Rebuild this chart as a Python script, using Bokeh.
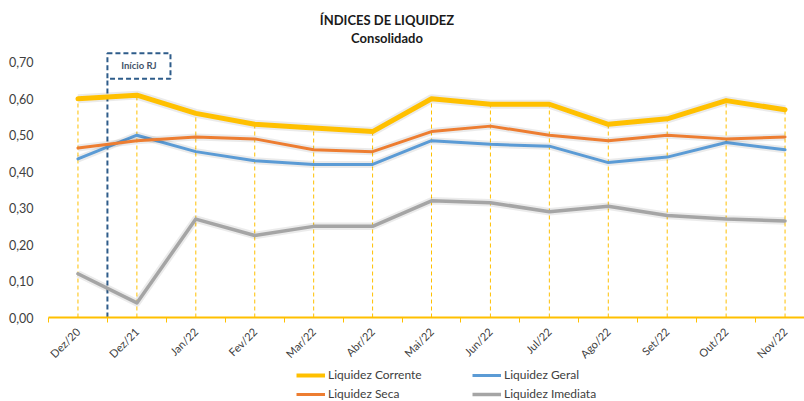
import math
from bokeh.plotting import figure
from bokeh.layouts import column
from bokeh.embed import file_html
from bokeh.resources import INLINE
from bokeh.models import (Range1d, FixedTicker, CustomJSTickFormatter, Legend,
                          LegendItem, Label, BoxAnnotation)

# ---------------- data ----------------
categorias = ["Dez/20", "Dez/21", "Jan/22", "Fev/22", "Mar/22", "Abr/22", "Mai/22",
              "Jun/22", "Jul/22", "Ago/22", "Set/22", "Out/22", "Nov/22"]
liquidez_corrente = [0.60, 0.61, 0.56, 0.53, 0.52, 0.51, 0.60, 0.585, 0.585, 0.53, 0.545, 0.595, 0.57]
liquidez_geral = [0.435, 0.50, 0.455, 0.43, 0.42, 0.42, 0.485, 0.475, 0.47, 0.425, 0.44, 0.48, 0.46]
liquidez_seca = [0.465, 0.485, 0.495, 0.49, 0.46, 0.455, 0.51, 0.525, 0.50, 0.485, 0.50, 0.49, 0.495]
liquidez_imediata = [0.12, 0.04, 0.27, 0.225, 0.25, 0.25, 0.32, 0.315, 0.29, 0.305, 0.28, 0.27, 0.265]
series_nomes = ["Liquidez Corrente", "Liquidez Geral", "Liquidez Seca", "Liquidez Imediata"]
y_ticks = [0.0, 0.1, 0.2, 0.3, 0.4, 0.5, 0.6, 0.7]
titulo = "ÍNDICES DE LIQUIDEZ"
subtitulo = "Consolidado"
evento_texto = "Início RJ"
evento_pos = 0.5  # between Dez/20 and Dez/21

FONT = "Lato"
x = list(range(len(categorias)))

p = figure(width=804, height=368, title=None,
           x_range=Range1d(-0.5, 12.33), y_range=Range1d(0, 0.8696),
           output_backend="svg", toolbar_location=None,
           min_border_left=48, min_border_right=0, min_border_top=0, min_border_bottom=50)
p.outline_line_color = None
p.grid.visible = False
p.background_fill_color = "white"
p.border_fill_color = "white"

# y axis
p.yaxis.ticker = FixedTicker(ticks=y_ticks)
p.yaxis.formatter = CustomJSTickFormatter(code="return tick.toFixed(2).replace('.', ',');")
p.yaxis.axis_line_color = None
p.yaxis.major_tick_line_color = None
p.yaxis.minor_tick_line_color = None
p.yaxis.major_label_standoff = 9
p.yaxis.major_label_text_font = FONT
p.yaxis.major_label_text_font_size = "12.5px"
p.yaxis.major_label_text_color = "#404040"

# x axis
p.xaxis.ticker = FixedTicker(ticks=x, minor_ticks=[i - 0.5 for i in range(len(categorias) + 1)])
p.xaxis.formatter = CustomJSTickFormatter(args=dict(cats=categorias),
                                          code="const i = Math.round(tick); return (i >= 0 && i < cats.length) ? cats[i] : '';")
p.xaxis.axis_line_color = "#FFC000"
p.xaxis.axis_line_width = 2
p.xaxis.major_tick_line_color = None
p.xaxis.minor_tick_line_color = "#FFC000"
p.xaxis.minor_tick_out = 5
p.xaxis.minor_tick_in = 0
p.xaxis.major_tick_out = 0
p.xaxis.major_tick_in = 0
p.xaxis.major_label_standoff = 7
p.xaxis.major_label_orientation = math.pi / 4
p.xaxis.major_label_text_font = FONT
p.xaxis.major_label_text_font_size = "11px"
p.xaxis.major_label_text_color = "#404040"

# drop lines
p.segment(x0=x, y0=[0] * len(x), x1=x, y1=liquidez_corrente,
          line_color="#FFC000", line_width=1, line_dash="4 3")

# event line + box
p.segment(x0=[evento_pos], y0=[0], x1=[evento_pos], y1=[0.655],
          line_color="#2E5C8A", line_width=2, line_dash="5 3")
p.add_layout(BoxAnnotation(left=evento_pos, right=1.57, bottom=0.655, top=0.725,
                           fill_color=None, fill_alpha=0, line_color="#2E5C8A", line_alpha=1,
                           line_width=2, line_dash="5 3"))
p.add_layout(Label(x=1.035, y=0.69, text=evento_texto, text_align="center",
                   text_baseline="middle", text_font=FONT, text_font_style="bold",
                   text_font_size="9.5px", text_color="#44546A"))

# series (with soft shadow underlay)
series = [
    (liquidez_corrente, "#FFC000", 5),
    (liquidez_geral, "#5B9BD5", 3),
    (liquidez_seca, "#ED7D31", 3),
    (liquidez_imediata, "#A5A5A5", 3.5),
]
for ys, col, w in series:
    p.line(x, ys, line_color="black", line_alpha=0.08, line_width=w + 4, line_join="round")
    p.line(x, ys, line_color=col, line_width=w, line_join="round", line_cap="round")

# titles
p.add_layout(Label(x=5.245, y=0.816, text=titulo, text_align="center", text_baseline="middle",
                   text_font=FONT, text_font_style="bold", text_font_size="13px", text_color="#1a1a1a"))
p.add_layout(Label(x=5.245, y=0.766, text=subtitulo, text_align="center", text_baseline="middle",
                   text_font=FONT, text_font_style="bold", text_font_size="13px", text_color="#1a1a1a"))

# ---------------- legend strip ----------------
pl = figure(width=804, height=33, title=None, x_axis_type=None, y_axis_type=None,
            x_range=Range1d(-0.5, 12.33), y_range=Range1d(10, 11),
            output_backend="svg", toolbar_location=None,
            min_border_left=0, min_border_right=0, min_border_top=0, min_border_bottom=0)
pl.outline_line_color = None
pl.grid.visible = False
leg_r = []
for (ys, col, w), nome in zip(series, series_nomes):
    leg_r.append(pl.line(x, ys, line_color=col, line_width=min(w, 4)))  # off-range: only for legend swatches


def mk_legend(items, loc):
    return Legend(items=items, location=loc, orientation="vertical",
                  background_fill_alpha=0, border_line_color=None,
                  padding=0, margin=0, spacing=4, glyph_width=29, glyph_height=14,
                  label_height=14, label_standoff=3,
                  label_text_font=FONT, label_text_font_size="12px", label_text_color="#404040")


pl.add_layout(mk_legend([LegendItem(label=series_nomes[0], renderers=[leg_r[0]]),
                         LegendItem(label=series_nomes[2], renderers=[leg_r[2]])], (248, 0)))
pl.add_layout(mk_legend([LegendItem(label=series_nomes[1], renderers=[leg_r[1]]),
                         LegendItem(label=series_nomes[3], renderers=[leg_r[3]])], (424, 0)))

layout = column(p, pl, spacing=0)
open("out.html", "w").write(file_html(layout, INLINE))
